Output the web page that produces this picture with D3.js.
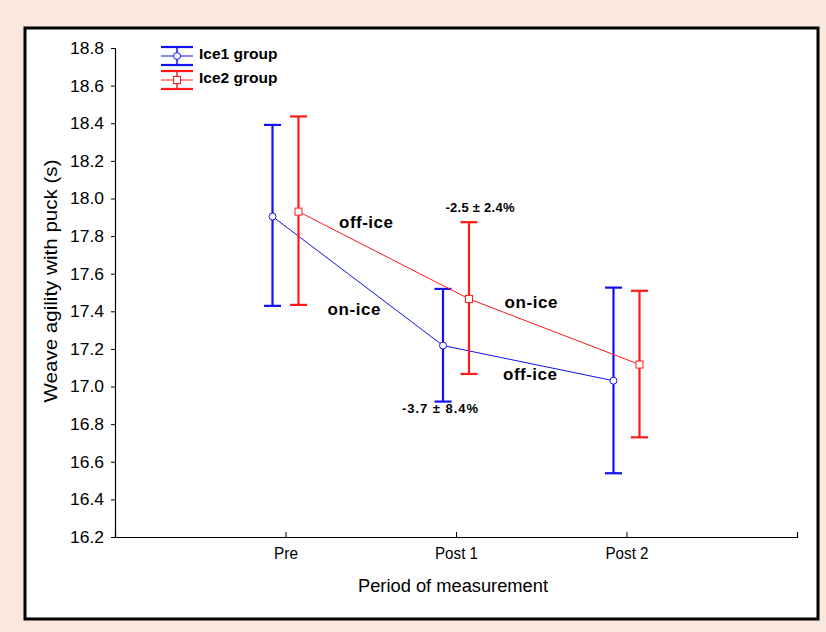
<!DOCTYPE html>
<html>
<head>
<meta charset="utf-8">
<script src="https://cdn.jsdelivr.net/npm/d3@7"></script>
<style>
  body { margin: 0; background: #fbe8dc; }
  svg { display: block; font-family: Arial, "Liberation Sans", sans-serif; }
</style>
</head>
<body>
<svg id="chart" width="826" height="632"></svg>
<script>
// periods on the x axis
const periods = ["Pre", "Post 1", "Post 2"]
const yTicks = [16.2, 16.4, 16.6, 16.8, 17.0, 17.2, 17.4, 17.6, 17.8, 18.0, 18.2, 18.4, 18.6, 18.8]

// Ice1 group (blue)
const ice1Mean = [17.904, 17.218, 17.031]
const ice1Upper = [18.391, 17.519, 17.526]
const ice1Lower = [17.429, 16.920, 16.539]

// Ice2 group (red)
const ice2Mean = [17.930, 17.466, 17.117]
const ice2Upper = [18.436, 17.874, 17.509]
const ice2Lower = [17.434, 17.067, 16.730]

const groups = [
	{name: "Ice1 group", color: "#1010f0", mean: ice1Mean, upper: ice1Upper, lower: ice1Lower, shift: -13, marker: "circle"},
	{name: "Ice2 group", color: "#ff1a1a", mean: ice2Mean, upper: ice2Upper, lower: ice2Lower, shift: 13, marker: "square"}
]

const svg = d3.select("#chart")

// white panel with thick black border
svg.append("rect")
	.attr("x", 25).attr("y", 28)
	.attr("width", 793).attr("height", 591)
	.attr("fill", "#fff")
	.attr("stroke", "#000")
	.attr("stroke-width", 3)

const x = d3.scaleLinear().domain([0, 4]).range([115, 797])
const y = d3.scaleLinear().domain([16.2, 18.8]).range([537, 48])

// y axis
const yAxis = svg.append("g")
	.attr("transform", "translate(115,0)")
	.call(d3.axisLeft(y).tickValues(yTicks).tickFormat(d3.format(".1f")).tickSizeOuter(0).tickSize(4).tickPadding(7))
yAxis.selectAll("text").style("font-size", "17px").attr("fill", "#000").attr("textLength", 34).attr("lengthAdjust", "spacingAndGlyphs")

// x axis, ticks pointing up
const xAxis = svg.append("g")
	.attr("transform", "translate(0,537)")
	.call(d3.axisBottom(x).tickValues([1, 2, 3, 4]).tickFormat(d => periods[d - 1] || "").tickSizeOuter(0).tickSize(-5).tickPadding(10))
xAxis.selectAll("text").style("font-size", "17px").attr("fill", "#000")
xAxis.selectAll("text").filter(d => d === 1).attr("textLength", 24).attr("lengthAdjust", "spacingAndGlyphs")
xAxis.selectAll("text").filter(d => d > 1 && d < 4).attr("textLength", 43).attr("lengthAdjust", "spacingAndGlyphs")
svg.selectAll(".domain").attr("stroke-width", 1.2)

// axis titles
svg.append("text")
	.attr("x", 453).attr("y", 592)
	.attr("text-anchor", "middle")
	.style("font-size", "18px")
	.attr("textLength", 190).attr("lengthAdjust", "spacingAndGlyphs")
	.text("Period of measurement")

svg.append("text")
	.attr("transform", "translate(57,281) rotate(-90)")
	.attr("text-anchor", "middle")
	.style("font-size", "19px")
	.attr("textLength", 243).attr("lengthAdjust", "spacingAndGlyphs")
	.text("Weave agility with puck (s)")

const cap = 8.5

groups.forEach(g => {
	const px = i => x(i + 1) + g.shift
	const line = d3.line().x((d, i) => px(i)).y(d => y(d))

	svg.append("path")
		.datum(g.mean)
		.attr("d", line)
		.attr("fill", "none")
		.attr("stroke", g.color)
		.attr("stroke-width", 1)

	const bars = svg.append("g").selectAll("g")
		.data(g.mean)
		.enter()
		.append("g")

	bars.append("line")
		.attr("x1", (d, i) => px(i)).attr("x2", (d, i) => px(i))
		.attr("y1", (d, i) => y(g.upper[i])).attr("y2", (d, i) => y(g.lower[i]))
		.attr("stroke", g.color).attr("stroke-width", 2.2)

	;["upper", "lower"].forEach(k => {
		bars.append("line")
			.attr("x1", (d, i) => px(i) - cap).attr("x2", (d, i) => px(i) + cap)
			.attr("y1", (d, i) => y(g[k][i])).attr("y2", (d, i) => y(g[k][i]))
			.attr("stroke", g.color).attr("stroke-width", 2.2)
	})

	if (g.marker === "circle") {
		bars.append("circle")
			.attr("cx", (d, i) => px(i)).attr("cy", d => y(d))
			.attr("r", 3.5)
			.attr("fill", "#fff").attr("stroke", g.color).attr("stroke-width", 1)
	} else {
		bars.append("rect")
			.attr("x", (d, i) => px(i) - 3.5).attr("y", d => y(d) - 3.5)
			.attr("width", 7).attr("height", 7)
			.attr("fill", "#fff").attr("stroke", g.color).attr("stroke-width", 1)
	}
})

// legend
groups.forEach((g, k) => {
	const cx = 177, cy = 56 + k * 24
	const lg = svg.append("g")
	lg.append("line").attr("x1", cx - 16).attr("x2", cx + 16).attr("y1", cy - 9).attr("y2", cy - 9)
		.attr("stroke", g.color).attr("stroke-width", 2.2)
	lg.append("line").attr("x1", cx - 16).attr("x2", cx + 16).attr("y1", cy + 9).attr("y2", cy + 9)
		.attr("stroke", g.color).attr("stroke-width", 2.2)
	lg.append("line").attr("x1", cx).attr("x2", cx).attr("y1", cy - 9).attr("y2", cy + 9)
		.attr("stroke", g.color).attr("stroke-width", 1.5)
	lg.append("line").attr("x1", cx - 16).attr("x2", cx + 16).attr("y1", cy).attr("y2", cy)
		.attr("stroke", g.color).attr("stroke-width", 1)
	if (g.marker === "circle") {
		lg.append("circle").attr("cx", cx).attr("cy", cy).attr("r", 3.5)
			.attr("fill", "#fff").attr("stroke", g.color)
	} else {
		lg.append("rect").attr("x", cx - 3.5).attr("y", cy - 3.5).attr("width", 7).attr("height", 7)
			.attr("fill", "#fff").attr("stroke", g.color)
	}
	lg.append("text")
		.attr("x", 199).attr("y", cy + 3)
		.style("font-size", "15.5px").style("font-weight", "bold")
		.text(g.name)
})

// annotations
const notes = [
	{t: "off-ice", x: 366, y: 228, s: 17, w: 54},
	{t: "on-ice", x: 354, y: 315, s: 17, w: 53},
	{t: "on-ice", x: 531, y: 308, s: 17, w: 53},
	{t: "off-ice", x: 530, y: 380, s: 17, w: 54},
	{t: "-2.5 \u00b1 2.4%", x: 480, y: 212, s: 13, w: 69},
	{t: "-3.7 \u00b1  8.4%", x: 440, y: 413, s: 13, w: 76}
]
svg.append("g").selectAll("text")
	.data(notes)
	.enter()
	.append("text")
		.attr("x", d => d.x).attr("y", d => d.y)
		.attr("text-anchor", "middle")
		.attr("textLength", d => d.w)
		.attr("lengthAdjust", "spacing")
		.style("font-size", d => d.s + "px")
		.style("font-weight", "bold")
		.text(d => d.t)
</script>
</body>
</html>
